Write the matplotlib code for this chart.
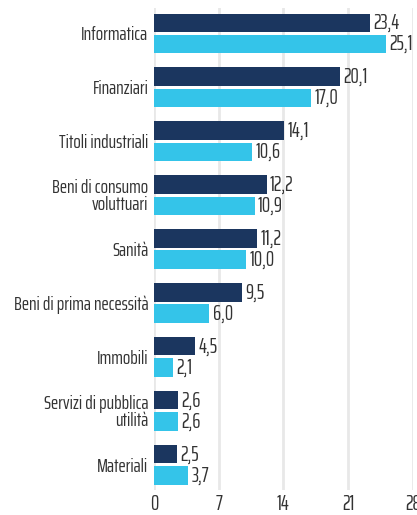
import numpy as np
import matplotlib
matplotlib.use('Agg')
import matplotlib.pyplot as plt

plt.rcParams['font.family'] = ['Saira ExtraCondensed', 'DejaVu Sans']
plt.rcParams['font.weight'] = 'normal'

categories = ['Informatica', 'Finanziari', 'Titoli industriali',
              'Beni di consumo\nvoluttuari', 'Sanità', 'Beni di prima necessità',
              'Immobili', 'Servizi di pubblica\nutilità', 'Materiali']
serie_a = [23.4, 20.1, 14.1, 12.2, 11.2, 9.5, 4.5, 2.6, 2.5]
serie_b = [25.1, 17.0, 10.6, 10.9, 10.0, 6.0, 2.1, 2.6, 3.7]
xticks = [0, 7, 14, 21, 28]

dark = '#1b365f'
light = '#34c4e9'
txt = '#333333'

fig = plt.figure(figsize=(4.17, 5.15), dpi=100)
ax = fig.add_axes([0.369, 0.049, 0.621, 0.935])

y = np.arange(len(categories))
h = 0.335
off = 0.195
ax.barh(y - off, serie_a, height=h, color=dark, zorder=3)
ax.barh(y + off, serie_b, height=h, color=light, zorder=3)

for yi, a, b in zip(y, serie_a, serie_b):
    ax.text(a + 0.35, yi - off, ('%.1f' % a).replace('.', ','), va='center',
            ha='left', fontsize=15, color=txt)
    ax.text(b + 0.35, yi + off, ('%.1f' % b).replace('.', ','), va='center',
            ha='left', fontsize=15, color=txt)

ax.set_xlim(0, 28)
ax.set_ylim(len(categories) - 1 + 0.46, -0.46)
ax.set_xticks(xticks)
ax.set_xticklabels([str(t) for t in xticks], fontsize=15, color=txt)
ax.set_yticks(y)
ax.set_yticklabels(categories, fontsize=14, color=txt, linespacing=0.9)
ax.tick_params(length=0, pad=4)
ax.tick_params(axis='x', pad=3)
ax.grid(axis='x', color='#e8e8e8', linewidth=2, zorder=0)
for s in ax.spines.values():
    s.set_visible(False)

fig.savefig('out.png', dpi=100)
